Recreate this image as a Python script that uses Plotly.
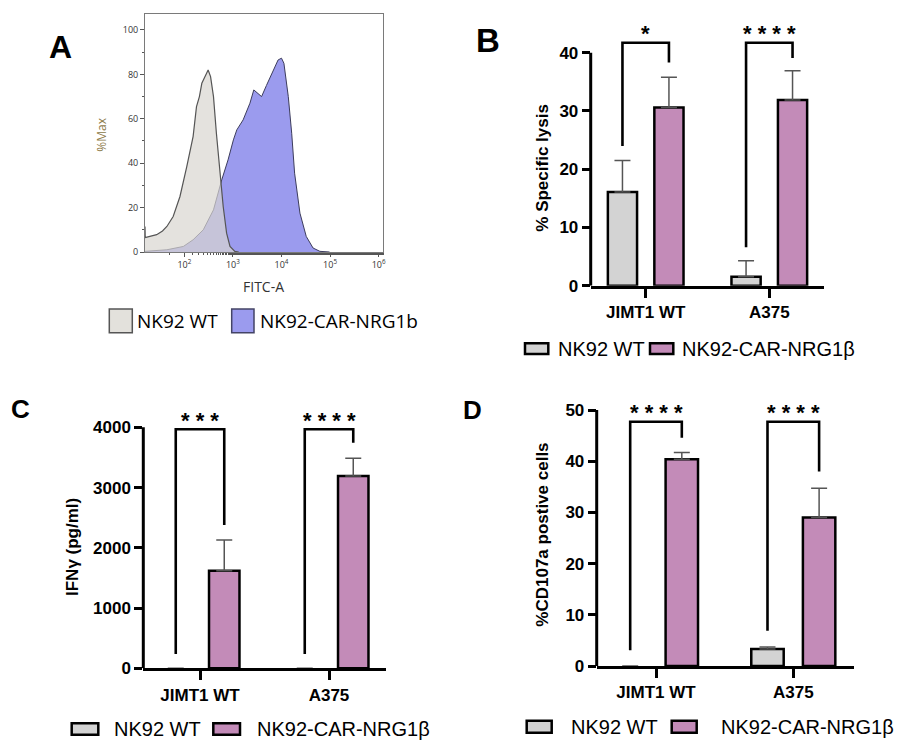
import plotly.graph_objects as go

W, H = 916, 750

# ---------------- Panel A: flow histogram (log10 FITC-A, %Max) ----------------
wt_log_fitc = [1.19, 1.195, 1.25, 1.43, 1.55, 1.64, 1.77, 1.91, 2.05, 2.12, 2.18, 2.25, 2.31, 2.36,
               2.42, 2.49, 2.54, 2.60, 2.66, 2.73, 2.80, 2.87, 2.94, 3.04, 3.12]
wt_pct_max = [11.5, 6.5, 6.8, 7.8, 9.5, 11.5, 16, 25, 38.5, 45, 52, 65.5, 70, 76,
              79, 82, 79, 70, 53.5, 37, 20.5, 8.5, 2.5, 0.3, 0]
car_log_fitc = [1.19, 1.64, 1.98, 2.18, 2.39, 2.60, 2.77, 2.90, 3.01, 3.08, 3.21, 3.35, 3.43, 3.49,
                3.59, 3.69, 3.83, 3.93, 4.00, 4.05, 4.14, 4.21, 4.27, 4.38, 4.51, 4.65, 4.79, 4.99]
car_pct_max = [0.3, 1, 2.5, 5.5, 10, 19, 32.5, 41.5, 50.5, 55, 59.5, 67, 73, 72,
               70, 75, 82, 86.5, 87.3, 85, 70, 53.5, 35.5, 17.5, 7, 1.8, 0.3, 0]
hist_names = ["NK92 WT", "NK92-CAR-NRG1b"]
fitc_tick_exp = [2, 3, 4, 5, 6]

# ---------------- Panels B-D: bar charts ----------------
targets = ["JIMT1 WT", "A375"]
effectors = ["NK92 WT", "NK92-CAR-NRG1β"]

lysis_wt = [16.1, 1.55]
lysis_wt_sd = [5.4, 2.75]
lysis_car = [30.6, 31.9]
lysis_car_sd = [5.2, 5.0]

ifng_wt = [0, 0]
ifng_wt_sd = [0, 0]
ifng_car = [1620, 3192]
ifng_car_sd = [509, 293]

cd107_wt = [0, 3.3]
cd107_wt_sd = [0, 0.4]
cd107_car = [40.4, 29.0]
cd107_car_sd = [1.3, 5.7]

# significance brackets (data units): top, left-leg bottom, right-leg bottom, label
lysis_sig_top = [41.7, 41.7]
lysis_sig_left = [24.0, 6.6]
lysis_sig_right = [38.3, 39.1]
lysis_sig_text = ["*", "****"]

ifng_sig_top = [3967, 3967]
ifng_sig_left = [237, 237]
ifng_sig_right = [2378, 3744]
ifng_sig_text = ["***", "****"]

cd107_sig_top = [47.7, 47.7]
cd107_sig_left = [3.1, 6.9]
cd107_sig_right = [44.6, 38.0]
cd107_sig_text = ["****", "****"]

# ---------------- styling helpers ----------------
GRAY = "#D3D3D3"
PINK = "#C38BB8"
ARIAL = "Liberation Sans"


def px(x):
    return x / W


def py(y):
    return 1 - y / H


def label(x, y, text, font, xanchor="center", **kw):
    return dict(x=px(x), y=py(y), xref="paper", yref="paper", text=text, showarrow=False,
                xanchor=xanchor, yanchor="middle", font=font, **kw)


fig = go.Figure()

# Panel A traces
fig.add_trace(go.Scatter(
    x=[10 ** v for v in car_log_fitc], y=car_pct_max, mode="lines", fill="tozeroy",
    fillcolor="#9B9BEE", line=dict(color="#3c3c5c", width=1), xaxis="x", yaxis="y",
    name=hist_names[1], showlegend=False))
fig.add_trace(go.Scatter(
    x=[10 ** v for v in wt_log_fitc], y=wt_pct_max, mode="lines", fill="tozeroy",
    fillcolor="rgba(216,214,208,0.7)", line=dict(color="#555555", width=1.2), xaxis="x", yaxis="y",
    name=hist_names[0], showlegend=False))

panels = [
    ("2", lysis_wt, lysis_wt_sd, lysis_car, lysis_car_sd,
     lysis_sig_top, lysis_sig_left, lysis_sig_right, lysis_sig_text),
    ("3", ifng_wt, ifng_wt_sd, ifng_car, ifng_car_sd,
     ifng_sig_top, ifng_sig_left, ifng_sig_right, ifng_sig_text),
    ("4", cd107_wt, cd107_wt_sd, cd107_car, cd107_car_sd,
     cd107_sig_top, cd107_sig_left, cd107_sig_right, cd107_sig_text),
]

BARGAP = 0.248
BARGROUPGAP = 0.372
half_off = (1 - BARGAP) / 4

shapes = []
annotations = []

for k, wt, wt_sd, car, car_sd, s_top, s_l, s_r, s_txt in panels:
    for vals, sd, name, col in [(wt, wt_sd, effectors[0], GRAY), (car, car_sd, effectors[1], PINK)]:
        fig.add_trace(go.Bar(
            x=targets, y=vals, name=name, showlegend=False,
            marker=dict(color=[col if v else "rgba(0,0,0,0)" for v in vals],
                        line=dict(color="black", width=[2.5 if v else 0 for v in vals])),
            error_y=dict(type="data", symmetric=False,
                         array=[s if v else None for s, v in zip(sd, vals)],
                         arrayminus=[0 if v else None for v in vals],
                         color="#555555", thickness=1.5, width=8),
            xaxis="x" + k, yaxis="y" + k))
    for i in range(len(targets)):
        xl, xr = i - half_off, i + half_off
        shapes.append(dict(
            type="path", xref="x" + k, yref="y" + k,
            path=f"M {xl},{s_l[i]} L {xl},{s_top[i]} L {xr},{s_top[i]} L {xr},{s_r[i]}",
            line=dict(color="black", width=2.6)))
        annotations.append(dict(
            x=i, y=s_top[i], xref="x" + k, yref="y" + k, text=" ".join(s_txt[i]),
            showarrow=False, xanchor="center", yanchor="middle", yshift=9,
            font=dict(family=ARIAL, size=22, color="black", weight="bold")))

# axis geometry (pixels)
geo = {
    "2": dict(x0=590.7, x1=824.3, c0=645.7, c1=769.3, zero=285.7, unit=5.825, top=46, ytop=40, dt=10),
    "3": dict(x0=143.3, x1=385.7, c0=200.0, c1=329.0, zero=668.3, unit=0.06025, top=4450, ytop=4000, dt=1000),
    "4": dict(x0=596.7, x1=854.0, c0=656.0, c1=793.3, zero=666.0, unit=5.12, top=53, ytop=50, dt=10),
}

layout_axes = {}
for k, g in geo.items():
    step = g["c1"] - g["c0"]
    layout_axes["xaxis" + k] = dict(
        domain=[px(g["x0"]), px(g["x1"])], anchor="y" + k, type="category",
        range=[(g["x0"] - g["c0"]) / step, (g["x1"] - g["c0"]) / step], automargin=False,
        showline=True, linecolor="black", linewidth=3, ticks="outside", ticklen=9,
        tickwidth=3, tickcolor="black", showgrid=False, zeroline=False,
        tickfont=dict(family=ARIAL, size=17, color="black", weight="bold"))
    ytop_px = g["zero"] - g["top"] * g["unit"]
    layout_axes["yaxis" + k] = dict(
        domain=[py(g["zero"]), py(ytop_px)], anchor="x" + k, range=[0, g["top"]],
        tickmode="linear", tick0=0, dtick=g["dt"], showline=False, ticks="outside",
        ticklen=8, tickwidth=3, tickcolor="black", showgrid=False, zeroline=False,
        automargin=False,
        tickfont=dict(family=ARIAL, size=17, color="black", weight="bold"))
    shapes.append(dict(type="line", xref="x" + k + " domain", yref="y" + k,
                       x0=0, x1=0, y0=0, y1=g["ytop"], line=dict(color="black", width=3)))

# Panel A axes
layout_axes["xaxis"] = dict(
    domain=[px(145), px(383)], anchor="y", type="log", range=[1.19, 6.09],
    tickvals=[10 ** e for e in fitc_tick_exp],
    ticktext=[f"10<sup>{e}</sup>" for e in fitc_tick_exp], automargin=False,
    showline=True, mirror=True, linecolor="#7a7a7a", linewidth=1,
    ticks="outside", ticklen=4, tickcolor="#555", tickwidth=1,
    minor=dict(ticks="outside", ticklen=2, tickcolor="#555", showgrid=False),
    showgrid=False, zeroline=False,
    tickfont=dict(family="Open Sans", size=9, color="#333"))
layout_axes["yaxis"] = dict(
    domain=[py(252), py(14)], anchor="x", range=[0, 107.2],
    tickvals=[0, 20, 40, 60, 80, 100], automargin=False,
    showline=True, mirror=True, linecolor="#7a7a7a", linewidth=1,
    ticks="outside", ticklen=4, tickcolor="#555", tickwidth=1,
    minor=dict(ticks="outside", ticklen=2, tickcolor="#555", dtick=10, showgrid=False),
    showgrid=False, zeroline=False,
    tickfont=dict(family="Open Sans", size=9, color="#333"))

# Panel A titles / legend
annotations += [
    label(263.3, 286.7, "FITC-A", dict(family="Open Sans", size=14, color="#333")),
    label(101.7, 135, "%Max", dict(family="Open Sans", size=12, color="#8C7A48"), textangle=-90),
]
legA = [(109.3, 132.3, "#E3E1DC", "#555555", hist_names[0], 135),
        (231.7, 254.0, "#9B9BEE", "#444466", hist_names[1], 258)]
for x0, x1, fc, lc, txt, tx in legA:
    shapes.append(dict(type="rect", xref="paper", yref="paper", x0=px(x0), x1=px(x1),
                       y0=py(332.7), y1=py(309), fillcolor=fc, line=dict(color=lc, width=1.5)))
    annotations.append(label(tx, 321, txt, dict(family="Open Sans", size=19, color="black"),
                             xanchor="left"))

# Bar-panel legends: (box x0, box x1, text x) for each series, y center, box half-height
bar_legends = [
    ([(525.0, 548.3, 556.0), (650.0, 673.3, 680.0)], 348.7, 5.4),
    ([(71.7, 98.3, 111.7), (213.3, 240.0, 255.0)], 729.0, 5.8),
    ([(526.7, 551.7, 569.0), (671.7, 696.7, 719.0)], 726.7, 6.0),
]
for items, yc, hh in bar_legends:
    for (x0, x1, tx), col, txt in zip(items, [GRAY, PINK], effectors):
        shapes.append(dict(type="rect", xref="paper", yref="paper", x0=px(x0), x1=px(x1),
                           y0=py(yc + hh), y1=py(yc - hh), fillcolor=col,
                           line=dict(color="black", width=2.5)))
        annotations.append(label(tx, yc, txt, dict(family=ARIAL, size=20, color="black"),
                                 xanchor="left"))

# Y-axis titles for bar panels
for txt, x, y in [("% Specific lysis", 542.7, 168.0), ("IFNγ (pg/ml)", 72.5, 547.5),
                  ("%CD107a postive cells", 541.7, 535.0)]:
    annotations.append(label(x, y, txt, dict(family=ARIAL, size=17, color="black", weight="bold"),
                             textangle=-90))

# Panel letters
for txt, x, y, s in [("A", 60.7, 46.7, 32), ("B", 487.5, 40.5, 33), ("C", 20.0, 409.0, 26),
                     ("D", 472.8, 410.0, 26)]:
    annotations.append(label(x, y, txt, dict(family=ARIAL, size=s, color="black", weight="bold")))

fig.update_layout(
    width=W, height=H, margin=dict(l=0, r=0, t=0, b=0, autoexpand=False),
    paper_bgcolor="white", plot_bgcolor="white",
    barmode="group", bargap=BARGAP, bargroupgap=BARGROUPGAP,
    shapes=shapes, annotations=annotations, showlegend=False,
    **layout_axes)

fig.write_html("out.html")
